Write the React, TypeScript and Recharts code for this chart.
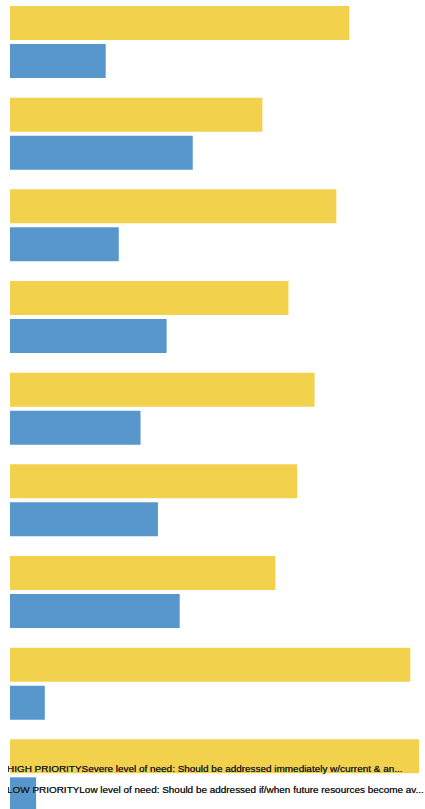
import React from "react";
import { BarChart, Bar, XAxis, YAxis, Legend } from "recharts";

// Needs assessment items (labels are not shown on the chart)
const categories = [
  "Need 1",
  "Need 2",
  "Need 3",
  "Need 4",
  "Need 5",
  "Need 6",
  "Need 7",
  "Need 8",
  "Need 9",
];

// Share of responses per priority level (%)
const highPriority = [78, 58, 75, 64, 70, 66, 61, 92, 94];
const lowPriority = [22, 42, 25, 36, 30, 34, 39, 8, 6];

const seriesNames = [
  "HIGH PRIORITYSevere level of need: Should be addressed immediately w/current & an...",
  "LOW PRIORITYLow level of need: Should be addressed if/when future resources become av...",
];

const HIGH_COLOR = "#F2D24C";
const LOW_COLOR = "#5897CB";

const data = categories.map((name, i) => ({
  name,
  high: highPriority[i],
  low: lowPriority[i],
}));

const renderLegend = () => (
  <div
    style={{
      fontFamily: "'Liberation Sans', Arial, sans-serif",
      fontSize: 9.95,
      lineHeight: "20.5px",
      color: "#222",
      whiteSpace: "nowrap",
      textShadow: "0 0 0.4px #222",
    }}
  >
    {seriesNames.map((s) => (
      <div key={s}>{s}</div>
    ))}
  </div>
);

export default function App() {
  return (
    <div
      style={{
        position: "absolute",
        top: -4,
        left: 8,
        width: 417,
        height: 813,
        overflow: "hidden",
      }}
    >
      <BarChart
        width={413}
        height={825}
        data={data}
        layout="vertical"
        margin={{ top: 0, right: 2, bottom: 0, left: 2 }}
        barGap={4}
        barSize={34}
      >
        <XAxis type="number" domain={[0, "dataMax"]} hide />
        <YAxis type="category" dataKey="name" hide />
        <Bar dataKey="high" name={seriesNames[0]} fill={HIGH_COLOR} isAnimationActive={false} />
        <Bar dataKey="low" name={seriesNames[1]} fill={LOW_COLOR} isAnimationActive={false} />
        <Legend
          content={renderLegend}
          wrapperStyle={{ position: "absolute", top: 763, left: -1, width: 417, height: 0, overflow: "visible" }}
        />
      </BarChart>
    </div>
  );
}
